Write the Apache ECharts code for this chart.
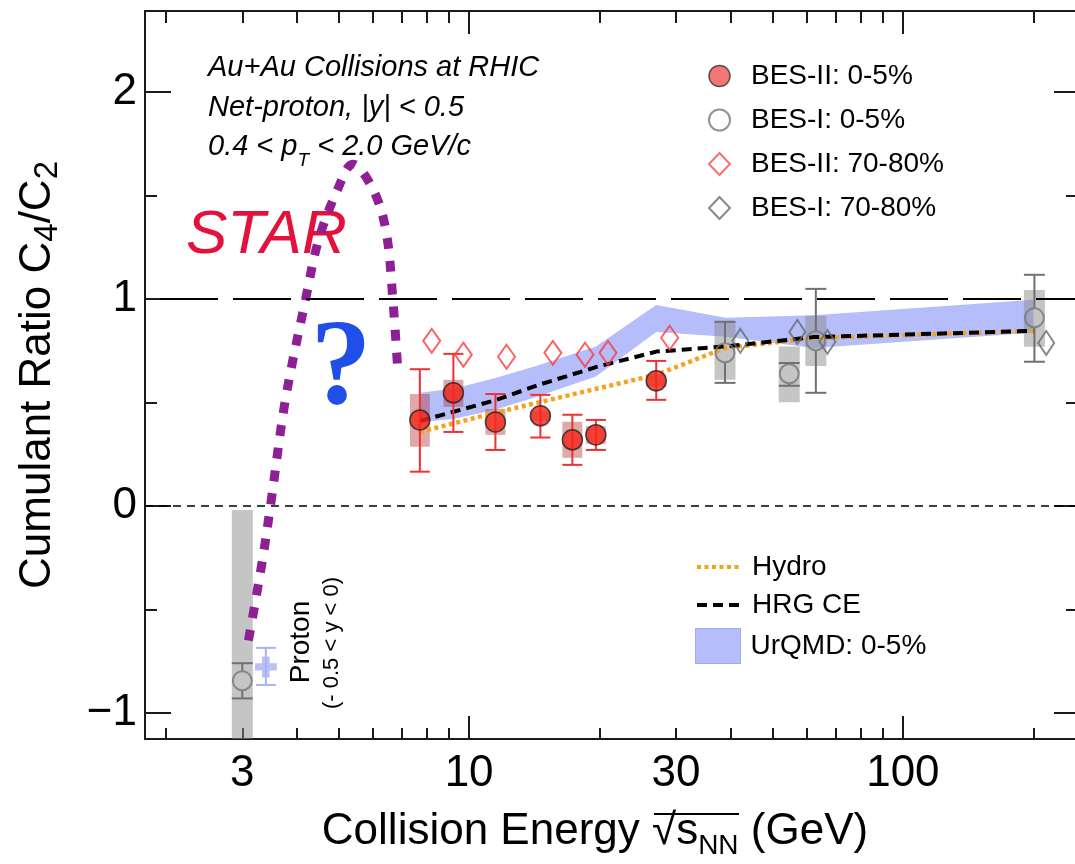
<!DOCTYPE html>
<html><head><meta charset="utf-8"><title>Cumulant Ratio C4/C2</title>
<script src="https://cdn.jsdelivr.net/npm/echarts@6.0.0/dist/echarts.min.js"></script>
<style>html,body{margin:0;padding:0;background:#fff;}#chart{width:1075px;height:864px;}</style>
</head><body><div id="chart"></div>
<script>
// ---------------- data ----------------
const xMin = 1.79, xMax = 252;
const yMin = -1.126, yMax = 2.39;
const xMajorTicks = [10, 100];
const xMinorTicks = [2, 3, 4, 5, 6, 7, 8, 9, 20, 30, 40, 50, 60, 70, 80, 90, 200];
const xTickLabels = [3, 10, 30, 100];
const yMajorTicks = [-1, 0, 1, 2];
const yMinorTicks = [-0.5, 0.5, 1.5];

// BES-II 0-5%
const bes2cEnergy = [7.7, 9.2, 11.5, 14.6, 17.3, 19.6, 27];
const bes2cValue = [0.415, 0.546, 0.405, 0.435, 0.319, 0.343, 0.604];
const bes2cStatLow = [0.165, 0.357, 0.27, 0.33, 0.198, 0.27, 0.512];
const bes2cStatHigh = [0.66, 0.734, 0.54, 0.536, 0.44, 0.415, 0.70];
const bes2cSysLow = [0.285, 0.478, 0.343, 0.41, 0.232, 0.30, 0.575];
const bes2cSysHigh = [0.54, 0.609, 0.468, 0.46, 0.406, 0.385, 0.635];

// BES-I 0-5%
const bes1cEnergy = [3.0, 38.9, 54.7, 63, 201];
const bes1cValue = [-0.845, 0.739, 0.638, 0.797, 0.908];
const bes1cStatLow = [-0.93, 0.594, 0.58, 0.546, 0.696];
const bes1cStatHigh = [-0.76, 0.889, 0.69, 1.048, 1.116];
const bes1cSysLow = [-1.67, 0.609, 0.50, 0.676, 0.768];
const bes1cSysHigh = [-0.02, 0.889, 0.77, 0.918, 1.043];

// BES-II 70-80%
const bes2pEnergy = [8.2, 9.7, 12.2, 15.6, 18.5, 20.9, 29];
const bes2pValue = [0.797, 0.73, 0.72, 0.739, 0.73, 0.739, 0.812];

// BES-I 70-80%
const bes1pEnergy = [42.2, 57.1, 67, 214];
const bes1pValue = [0.797, 0.84, 0.792, 0.787];

// Proton (-0.5 < y < 0) at 3 GeV
const protonEnergy = [3.4];
const protonValue = [-0.778];
const protonStatLow = [-0.865];
const protonStatHigh = [-0.686];

// Models
const hydroEnergy = [7.7, 11.5, 19.6, 27, 39, 62.4, 200];
const hydroValue = [0.357, 0.45, 0.565, 0.633, 0.763, 0.81, 0.845];
const hrgEnergy = [7.7, 11.5, 14.5, 19.6, 27, 39, 62.4, 200];
const hrgValue = [0.41, 0.51, 0.585, 0.67, 0.745, 0.77, 0.815, 0.845];
const urqmdEnergy = [7.7, 9.2, 11.5, 14.5, 19.6, 27, 39, 62.4, 200];
const urqmdLow = [0.405, 0.42, 0.464, 0.53, 0.625, 0.84, 0.817, 0.763, 0.836];
const urqmdHigh = [0.546, 0.565, 0.618, 0.68, 0.77, 0.97, 0.908, 0.92, 0.995];

// Speculative curve ("?")
const curveEnergy = [3.10, 3.34, 3.50, 3.77, 4.20, 4.50, 4.98, 5.39, 6.00, 6.43, 6.67, 6.85];
const curveValue = [-0.65, -0.26, 0.03, 0.51, 1.0, 1.285, 1.53, 1.65, 1.53, 1.33, 1.0, 0.65];

// reference lines
const refLineValues = [1, 0];

// ---------------- helpers ----------------
const FONT = '"Liberation Sans", Arial, Helvetica, sans-serif';
const L = v => Math.log10(v);
const AX = '#1a1a1a';

function xAx(position, ticks, len, labels, showLine) {
  const a = {
    type: 'value', position: position, min: L(xMin), max: L(xMax),
    axisLine: { show: showLine, onZero: false, lineStyle: { color: AX, width: 2 } },
    axisTick: { show: true, inside: true, length: len, customValues: ticks.map(L), lineStyle: { color: AX, width: 2 } },
    axisLabel: { show: false },
    splitLine: { show: false }
  };
  if (labels) {
    a.axisLabel = {
      show: true, customValues: xTickLabels.map(L),
      formatter: v => String(Math.round(Math.pow(10, v))),
      fontSize: 44, fontFamily: FONT, color: '#000', margin: 13
    };
    a.name = 'Collision Energy \u221As{s|NN} (GeV)';
    a.nameLocation = 'middle';
    a.nameGap = 64;
    a.nameMoveOverlap = false;
    a.nameTextStyle = {
      fontSize: 44, fontFamily: FONT, color: '#000', lineHeight: 57, padding: [0, 32, 0, 0],
      rich: { s: { fontSize: 28, fontFamily: FONT, color: '#000', lineHeight: 14, verticalAlign: 'bottom' } }
    };
  }
  return a;
}
function yAx(position, ticks, len, labels) {
  const a = {
    type: 'value', position: position, min: yMin, max: yMax,
    axisLine: { show: true, onZero: false, lineStyle: { color: AX, width: 2 } },
    axisTick: { show: true, inside: true, length: len, customValues: ticks, lineStyle: { color: AX, width: 2 } },
    axisLabel: { show: false },
    splitLine: { show: false }
  };
  if (labels) {
    a.axisLabel = {
      show: true, customValues: yMajorTicks,
      formatter: v => (v < 0 ? '\u2212' + Math.abs(v) : String(v)),
      fontSize: 44, fontFamily: FONT, color: '#000', margin: 8, padding: [8, 0, 0, 0]
    };
    a.name = 'Cumulant Ratio C{s|4}/C{s|2}';
    a.nameLocation = 'middle';
    a.nameRotate = 90;
    a.nameGap = 81;
    a.nameMoveOverlap = false;
    a.nameTextStyle = {
      fontSize: 44, fontFamily: FONT, color: '#000', lineHeight: 52,
      rich: { s: { fontSize: 33, fontFamily: FONT, color: '#000', lineHeight: 18, verticalAlign: 'bottom' } }
    };
  }
  return a;
}

function errorRender(color, gapR, capW) {
  return function (params, api) {
    const x = api.value(0);
    const c = api.coord([x, api.value(1)]);
    const lo = api.coord([x, api.value(2)]);
    const hi = api.coord([x, api.value(3)]);
    const segs = [];
    if (gapR > 0) {
      if (hi[1] < c[1] - gapR) segs.push([c[0], hi[1], c[0], c[1] - gapR]);
      if (lo[1] > c[1] + gapR) segs.push([c[0], c[1] + gapR, c[0], lo[1]]);
    } else {
      segs.push([c[0], hi[1], c[0], lo[1]]);
    }
    segs.push([c[0] - capW / 2, hi[1], c[0] + capW / 2, hi[1]]);
    segs.push([c[0] - capW / 2, lo[1], c[0] + capW / 2, lo[1]]);
    return {
      type: 'group',
      children: segs.map(s => ({
        type: 'line', shape: { x1: s[0], y1: s[1], x2: s[2], y2: s[3] },
        style: { stroke: color, lineWidth: 2 }
      }))
    };
  };
}
function boxRender(color, w) {
  return function (params, api) {
    const x = api.value(0);
    const hi = api.coord([x, api.value(2)]);
    const lo = api.coord([x, api.value(1)]);
    const cs = params.coordSys;
    const r = echarts.graphic.clipRectByRect(
      { x: hi[0] - w / 2, y: hi[1], width: w, height: lo[1] - hi[1] },
      { x: cs.x, y: cs.y, width: cs.width, height: cs.height });
    if (!r) return null;
    return { type: 'rect', shape: r, style: { fill: color } };
  };
}
const pts = (E, V) => E.map((e, i) => [L(e), V[i]]);
const errData = (E, V, lo, hi) => E.map((e, i) => [L(e), V[i], lo[i], hi[i]]);
const boxData = (E, lo, hi) => E.map((e, i) => [L(e), lo[i], hi[i]]);

// ---------------- chart ----------------
const chart = echarts.init(document.getElementById('chart'), null, { renderer: 'canvas' });
const option = {
  animation: false,
  backgroundColor: '#ffffff',
  textStyle: { fontFamily: FONT },
  tooltip: { show: false },
  grid: { left: 145, right: -2, top: 11, bottom: 125, containLabel: false, outerBoundsMode: 'none' },
  xAxis: [
    xAx('bottom', xMajorTicks, 23, true, true),
    xAx('bottom', xMinorTicks, 11, false, false),
    xAx('top', xMajorTicks, 23, false, true),
    xAx('top', xMinorTicks, 12, false, false)
  ],
  yAxis: [
    yAx('left', yMajorTicks, 26, true),
    yAx('left', yMinorTicks, 12, false),
    yAx('right', yMajorTicks, 23, false),
    yAx('right', yMinorTicks, 11, false)
  ],
  legend: [
    {
      orient: 'vertical', left: 703, top: 57, itemWidth: 21, itemHeight: 22, itemGap: 16,
      selectedMode: false,
      textStyle: { fontSize: 28, fontFamily: FONT, color: '#000', padding: [0, 0, 0, 16] },
      data: [
        { name: 'BES-II: 0-5%', itemStyle: { color: '#f25550', borderColor: '#333', borderWidth: 1.5 } },
        { name: 'BES-I: 0-5%', itemStyle: { color: 'rgba(0,0,0,0)', borderColor: '#777', borderWidth: 2 } },
        { name: 'BES-II: 70-80%', itemStyle: { color: 'rgba(0,0,0,0)', borderColor: '#ff4a4a', borderWidth: 2 } },
        { name: 'BES-I: 70-80%', itemStyle: { color: 'rgba(0,0,0,0)', borderColor: '#6a6a6a', borderWidth: 2 } }
      ]
    },
    {
      orient: 'vertical', left: 690, top: 548, itemWidth: 45, itemHeight: 14, itemGap: 10,
      selectedMode: false,
      lineStyle: { width: 4 },
      itemStyle: { color: 'rgba(0,0,0,0)', borderColor: 'rgba(0,0,0,0)', borderWidth: 0, opacity: 0 },
      textStyle: { fontSize: 28, fontFamily: FONT, color: '#000', padding: [0, 0, 0, 5] },
      data: ['Hydro', 'HRG CE']
    },
    {
      orient: 'vertical', left: 690, top: 623, itemWidth: 45, itemHeight: 35,
      selectedMode: false,
      textStyle: { fontSize: 28, fontFamily: FONT, color: '#000', padding: [0, 0, 0, 5] },
      data: [{ name: 'UrQMD: 0-5%', icon: 'rect', itemStyle: { color: '#b5befa', borderColor: '#9fa9ef', borderWidth: 1 } }]
    }
  ],
  graphic: [
    { type: 'text', x: 208, y: 67.5, style: { text: 'Au+Au Collisions at RHIC', fontSize: 29, fontStyle: 'italic', fontFamily: FONT, fill: '#000', align: 'left', verticalAlign: 'middle' } },
    { type: 'text', x: 208, y: 107.5, style: { text: 'Net-proton, |y| < 0.5', fontSize: 29, fontStyle: 'italic', fontFamily: FONT, fill: '#000', align: 'left', verticalAlign: 'middle' } },
    { type: 'text', x: 208, y: 146.5, style: {
        text: '0.4 < p{s|T} < 2.0 GeV/c', fontSize: 29, fontStyle: 'italic', fontFamily: FONT, fill: '#000',
        lineHeight: 48, align: 'left', verticalAlign: 'middle',
        rich: { s: { fontSize: 19, fontStyle: 'italic', fontFamily: FONT, fill: '#000', lineHeight: 10, verticalAlign: 'bottom' } } } },
    { type: 'text', x: 186, y: 236, style: { text: 'STAR', fontSize: 62, fontStyle: 'italic', fontFamily: FONT, fill: '#e3113c', align: 'left', verticalAlign: 'middle' } },
    { type: 'text', x: 341, y: 371, style: { text: '?', fontSize: 122, fontWeight: 'bold', fontFamily: '"Liberation Serif", "Times New Roman", serif', fill: '#1f4fe8', align: 'center', verticalAlign: 'middle' } },
    { type: 'text', x: 301, y: 642, rotation: Math.PI / 2, style: { text: 'Proton', fontSize: 28, fontFamily: FONT, fill: '#000', align: 'center', verticalAlign: 'middle' } },
    { type: 'text', x: 332, y: 643, rotation: Math.PI / 2, style: { text: '(- 0.5 < y < 0)', fontSize: 22, fontFamily: FONT, fill: '#000', align: 'center', verticalAlign: 'middle' } },
    { type: 'line', shape: { x1: 654, y1: 814, x2: 739, y2: 814 }, style: { stroke: '#000', lineWidth: 2 } }
  ],
  series: [
    {
      name: 'UrQMD: 0-5%', type: 'custom', z: 1, silent: true,
      itemStyle: { color: '#b5befa' },
      encode: { x: 0, y: [1, 2] },
      data: boxData(urqmdEnergy, urqmdLow, urqmdHigh),
      renderItem: function (params, api) {
        if (params.dataIndex !== 0) return null;
        const top = urqmdEnergy.map((e, i) => api.coord([L(e), urqmdHigh[i]]));
        const bot = urqmdEnergy.map((e, i) => api.coord([L(e), urqmdLow[i]])).reverse();
        return { type: 'polygon', shape: { points: top.concat(bot) }, style: { fill: '#b5befa' } };
      }
    },
    {
      name: 'refLines', type: 'line', z: 1, silent: true, data: [], symbol: 'none',
      markLine: {
        silent: true, symbol: ['none', 'none'], label: { show: false }, animation: false,
        data: [
          { yAxis: refLineValues[0], lineStyle: { color: '#000', width: 2, type: [58, 15], dashOffset: 58 } },
          { yAxis: refLineValues[1], lineStyle: { color: '#000', width: 1.5, type: [8, 6] } }
        ]
      }
    },
    {
      name: 'BES-I sys', type: 'custom', z: 2, silent: true,
      encode: { x: 0, y: [1, 2] },
      data: boxData(bes1cEnergy, bes1cSysLow, bes1cSysHigh),
      renderItem: boxRender('rgba(140,140,140,0.5)', 21)
    },
    {
      name: 'BES-II sys', type: 'custom', z: 2, silent: true,
      encode: { x: 0, y: [1, 2] },
      data: boxData(bes2cEnergy, bes2cSysLow, bes2cSysHigh),
      renderItem: boxRender('rgba(180,50,50,0.42)', 20)
    },
    {
      name: 'Hydro', type: 'line', z: 3, symbol: 'none', silent: true,
      data: pts(hydroEnergy, hydroValue),
      lineStyle: { color: '#f7a21c', width: 4.5, type: [4, 3.5], cap: 'butt' },
      itemStyle: { color: '#f7a21c' }
    },
    {
      name: 'HRG CE', type: 'line', z: 3, symbol: 'none', silent: true,
      data: pts(hrgEnergy, hrgValue),
      lineStyle: { color: '#000', width: 4, type: [10, 6], cap: 'butt' },
      itemStyle: { color: '#000' }
    },
    {
      name: 'speculation', type: 'line', z: 3, symbol: 'none', silent: true, smooth: 0.35,
      data: pts(curveEnergy, curveValue),
      lineStyle: { color: '#8e1f94', width: 9, type: [11, 12], cap: 'butt' }
    },
    {
      name: 'BES-I stat', type: 'custom', z: 4, silent: true,
      encode: { x: 0, y: [1, 2, 3] },
      data: errData(bes1cEnergy, bes1cValue, bes1cStatLow, bes1cStatHigh),
      renderItem: errorRender('#707070', 10, 21)
    },
    {
      name: 'BES-II stat', type: 'custom', z: 4, silent: true,
      encode: { x: 0, y: [1, 2, 3] },
      data: errData(bes2cEnergy, bes2cValue, bes2cStatLow, bes2cStatHigh),
      renderItem: errorRender('#f23030', 0, 20)
    },
    {
      name: 'Proton stat', type: 'custom', z: 4, silent: true,
      encode: { x: 0, y: [1, 2, 3] },
      data: errData(protonEnergy, protonValue, protonStatLow, protonStatHigh),
      renderItem: errorRender('#a9b2f5', 0, 20)
    },
    {
      name: 'Proton', type: 'scatter', z: 5, silent: true,
      symbol: 'path://M6.5,0 H13.5 V6.5 H20 V13.5 H13.5 V20 H6.5 V13.5 H0 V6.5 H6.5 Z', symbolSize: [22, 21],
      itemStyle: { color: '#a9b2f5' },
      data: pts(protonEnergy, protonValue)
    },
    {
      name: 'BES-I: 0-5%', type: 'scatter', z: 5, silent: true,
      symbol: 'circle', symbolSize: 19,
      itemStyle: { color: 'rgba(0,0,0,0)', borderColor: '#777', borderWidth: 2 },
      data: pts(bes1cEnergy, bes1cValue)
    },
    {
      name: 'BES-I: 70-80%', type: 'scatter', z: 5, silent: true,
      symbol: 'diamond', symbolSize: [16, 24],
      itemStyle: { color: 'rgba(0,0,0,0)', borderColor: '#6a6a6a', borderWidth: 2 },
      data: pts(bes1pEnergy, bes1pValue)
    },
    {
      name: 'BES-II: 70-80%', type: 'scatter', z: 5, silent: true,
      symbol: 'diamond', symbolSize: [17, 24],
      itemStyle: { color: 'rgba(0,0,0,0)', borderColor: '#ff3a3a', borderWidth: 2 },
      data: pts(bes2pEnergy, bes2pValue)
    },
    {
      name: 'BES-II: 0-5%', type: 'scatter', z: 6, silent: true,
      symbol: 'circle', symbolSize: 20,
      itemStyle: { color: '#f5261c', borderColor: '#222', borderWidth: 1.5 },
      data: pts(bes2cEnergy, bes2cValue)
    }
  ]
};
chart.setOption(option);
</script></body></html>
